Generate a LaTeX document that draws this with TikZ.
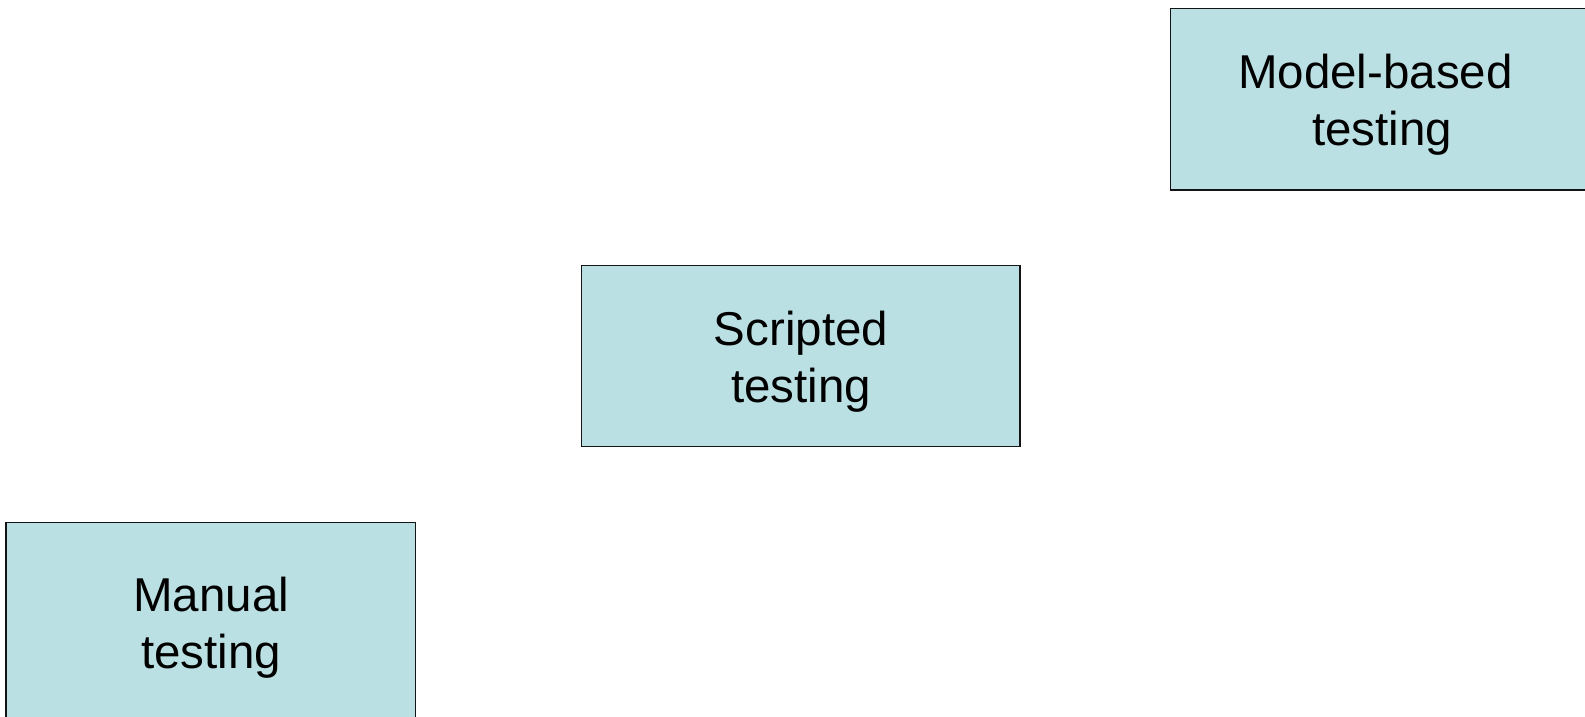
\documentclass[tikz,border=0pt]{standalone}
\usepackage{fontspec}
\setmainfont{Liberation Sans}
\definecolor{boxfill}{RGB}{187,224,227}
\definecolor{boxline}{RGB}{20,20,20}
\begin{document}
\begin{tikzpicture}[x=1pt,y=-1pt,
  box/.style={draw=boxline, fill=boxfill, line width=1.3pt, rectangle, inner sep=0pt},
  lbl/.style={align=center, inner sep=0pt, font=\fontsize{47.5pt}{57pt}\selectfont}]
  \useasboundingbox (0,0) rectangle (1585,716);
  \fill[white] (0,0) rectangle (1585,716);
  \clip (0,0) rectangle (1585,716);
  % boxes
  \node[box, minimum width=440pt, minimum height=181.7pt] (model) at (1390.7,99.15) {};
  \node[box, minimum width=438.3pt, minimum height=181pt] (scripted) at (800.85,356.2) {};
  \node[box, minimum width=409.7pt, minimum height=200pt] (manual) at (210.85,622.7) {};
  % labels
  \node[lbl] (modelT) at (1382,105) {Model-based\hspace*{13.2pt}\\testing};
  \node[lbl] (scriptedT) at (801,361.6) {Scripted\\testing};
  \node[lbl] (manualT) at (211.3,627.7) {Manual\\testing};
\end{tikzpicture}
\end{document}
